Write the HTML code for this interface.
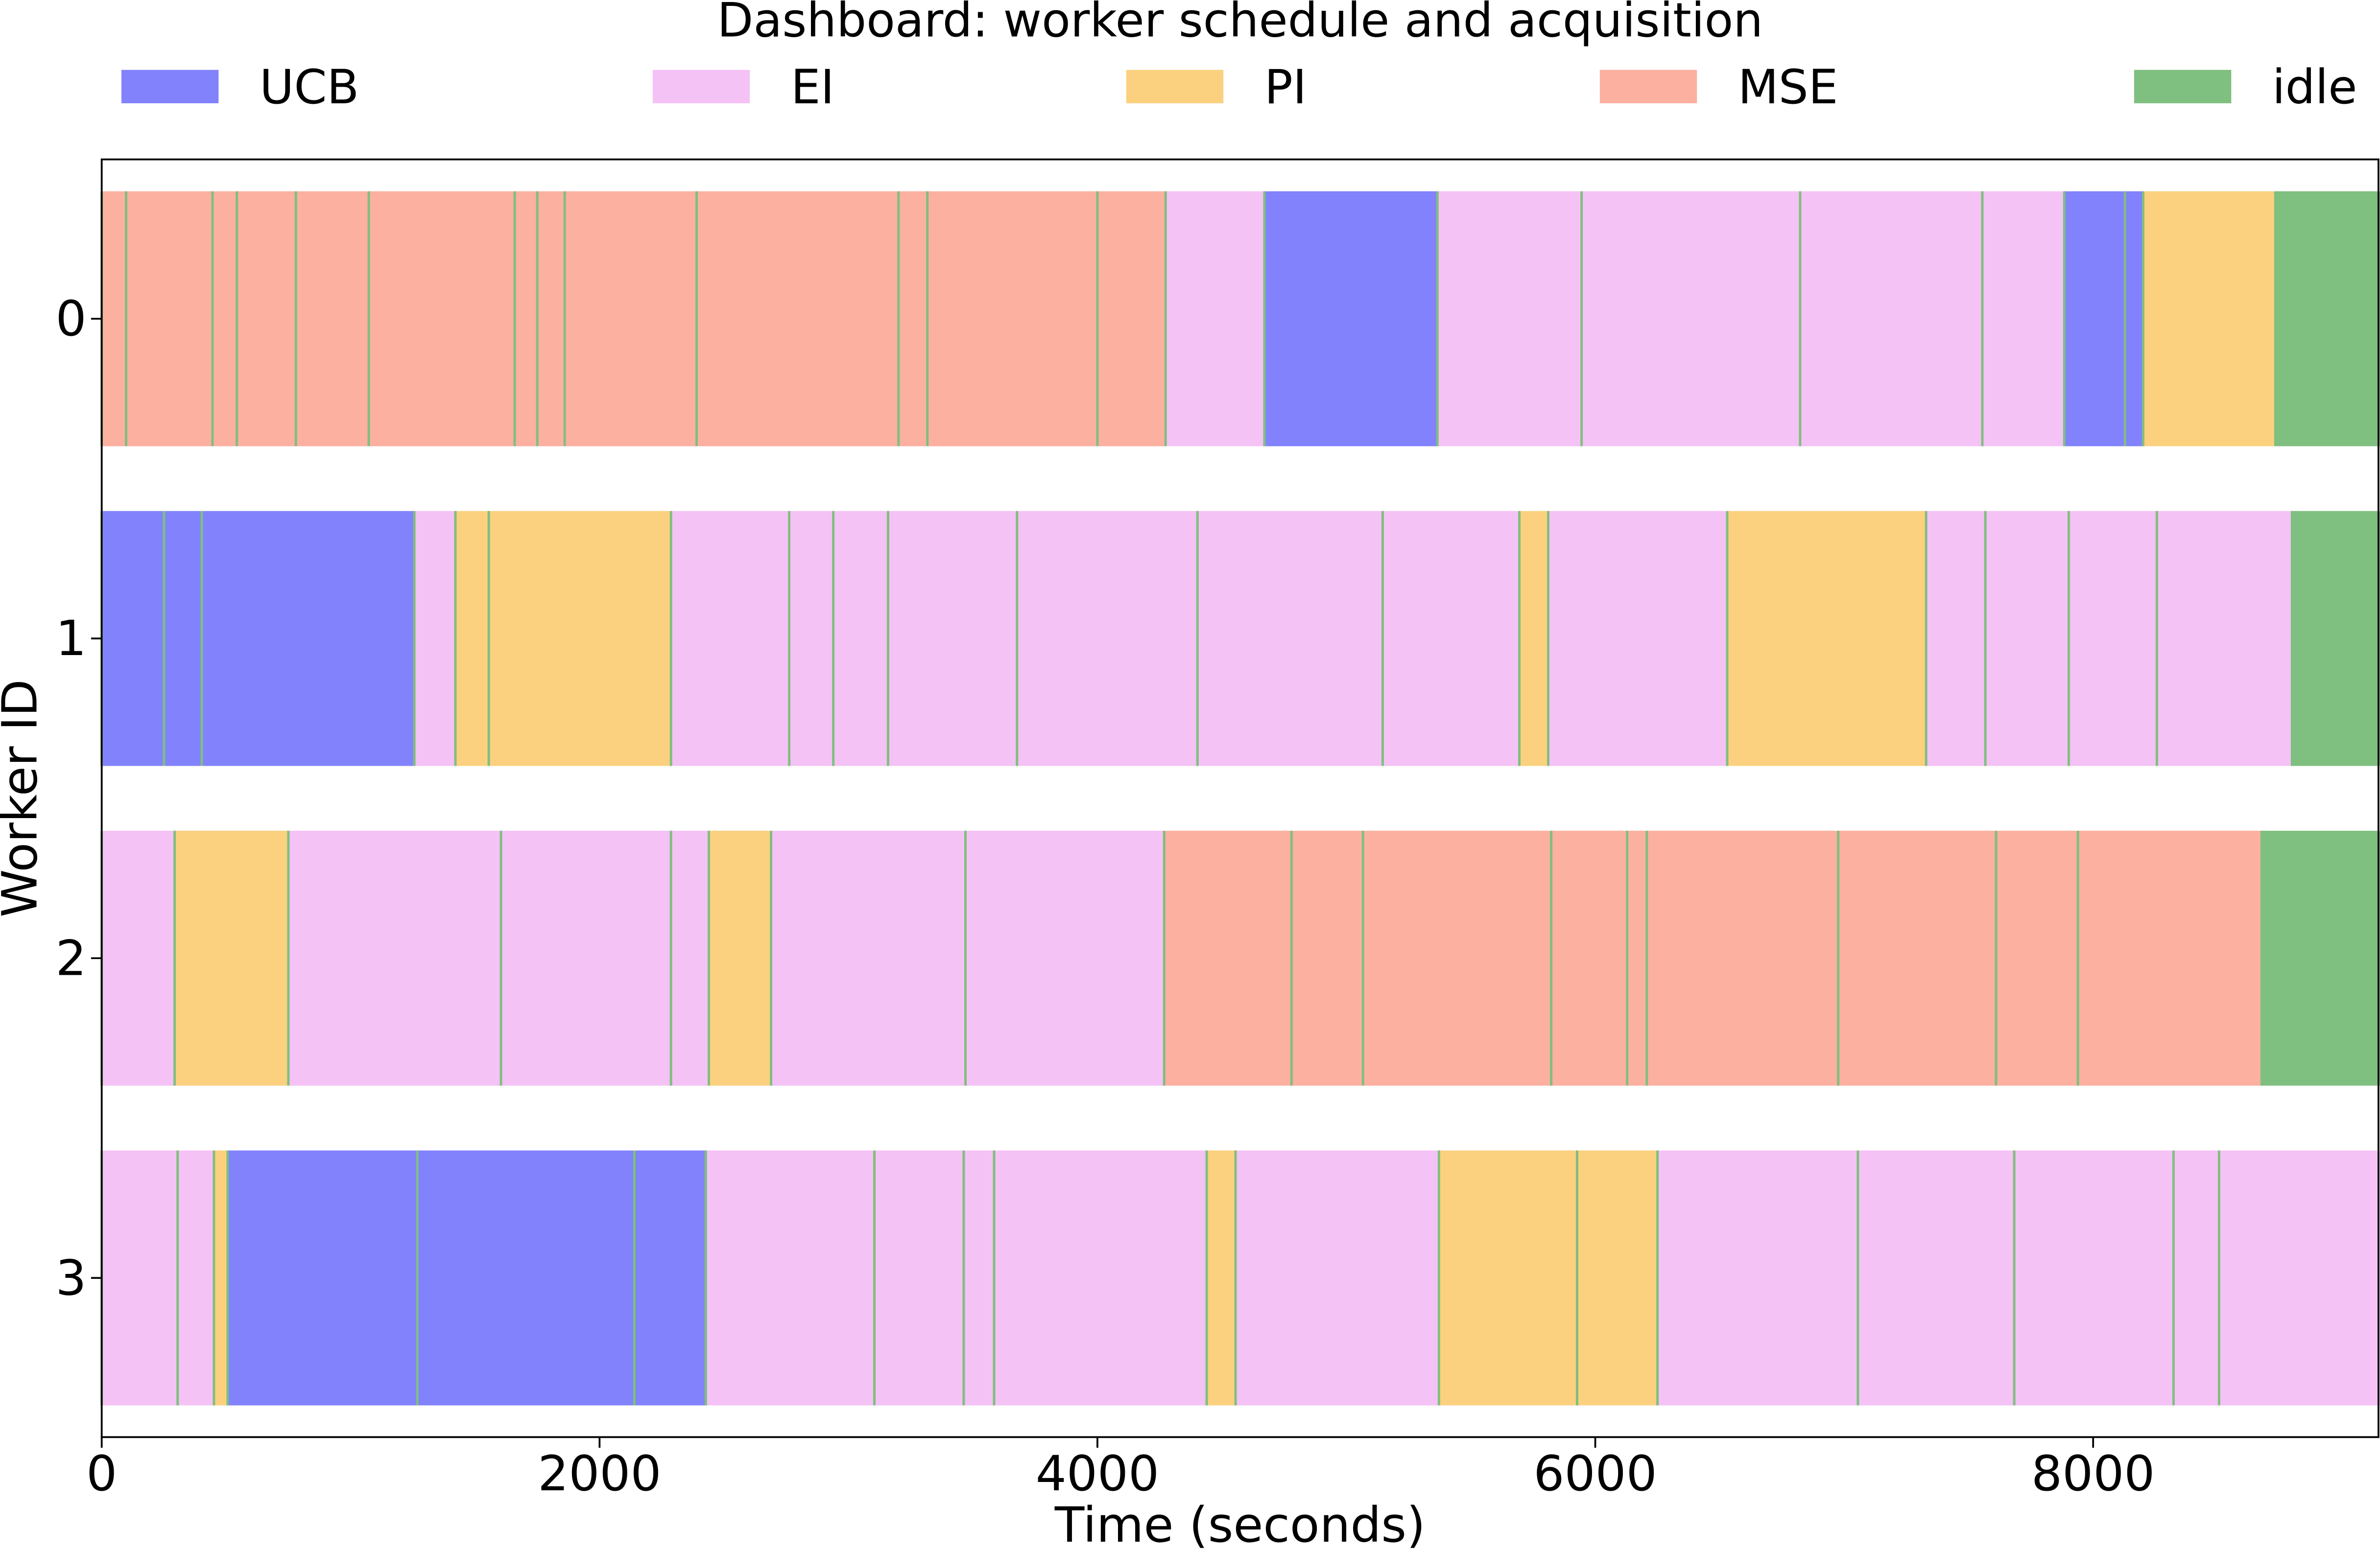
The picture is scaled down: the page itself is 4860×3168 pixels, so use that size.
<!DOCTYPE html>
<html><head><meta charset="utf-8"><style>
html,body{margin:0;padding:0;background:#fff}
svg{display:block;font-family:"DejaVu Sans","Liberation Sans",sans-serif}
</style></head><body>
<svg id="chart" width="4860" height="3168" viewBox="0 0 1568 1022" xmlns="http://www.w3.org/2000/svg">
<text x="817" y="24" font-size="31" text-anchor="middle" fill="#000">Dashboard: worker schedule and acquisition</text>
<g id="legend"></g>
<g id="bars"></g>
<rect x="67" y="105" width="1500" height="842" fill="none" stroke="#000" stroke-width="1.2"/>
<g id="axes"></g>
<text x="817" y="1016" font-size="32" text-anchor="middle">Time (seconds)</text>
<text transform="translate(24,526) rotate(-90)" font-size="32" text-anchor="middle">Worker ID</text>
</svg>
<script>
const legendLabels = ["UCB","EI","PI","MSE","idle"];
const colors = {UCB:"#8282fd",EI:"#f5c2f5",PI:"#fbd17f",MSE:"#fcb0a0",idle:"#7fbf7f"};
const xTicks = [0,2000,4000,6000,8000];
const workers = [0,1,2,3];
const tEnd = 9152;
const starts0 = [0,98,445,543,780,1073,1659,1750,1860,2390,3201,3317,4000,4274,4671,5366,5945,6823,7555,7884,8128,8201,8732];
const types0 = ["MSE","MSE","MSE","MSE","MSE","MSE","MSE","MSE","MSE","MSE","MSE","MSE","MSE","EI","UCB","EI","EI","EI","EI","UCB","UCB","PI","idle"];
const starts1 = [0,250,402,1256,1421,1555,2287,2762,2939,3159,3677,4402,5146,5695,5811,6530,7329,7567,7902,8256,8799];
const types1 = ["UCB","UCB","UCB","EI","PI","PI","EI","EI","EI","EI","EI","EI","EI","PI","EI","PI","EI","EI","EI","EI","idle"];
const starts2 = [0,293,750,1604,2287,2439,2689,3470,4268,4780,5067,5823,6128,6207,6976,7610,7939,8677];
const types2 = ["EI","PI","EI","EI","EI","PI","EI","EI","MSE","MSE","MSE","MSE","MSE","MSE","MSE","MSE","MSE","idle"];
const starts3 = [0,305,451,506,1268,2140,2427,3104,3463,3585,4439,4555,5372,5927,6250,7055,7683,8323,8506];
const types3 = ["EI","EI","PI","UCB","UCB","UCB","EI","EI","EI","EI","PI","EI","PI","PI","EI","EI","EI","EI","EI"];
const allStarts=[starts0,starts1,starts2,starts3], allTypes=[types0,types1,types2,types3];
const NS="http://www.w3.org/2000/svg";
const x = t => 67 + t*0.164;
const yc = w => 210 + w*210.7;
const H = 168;
function mk(tag,attrs,parent){const e=document.createElementNS(NS,tag);for(const k in attrs)e.setAttribute(k,attrs[k]);parent.appendChild(e);return e;}
const bars=document.getElementById('bars');
workers.forEach((w,i)=>{
  const s=allStarts[i], ty=allTypes[i];
  s.forEach((st,j)=>{
    const en = j+1<s.length ? s[j+1] : tEnd;
    const r=mk('rect',{x:x(st),y:yc(w)-H/2,width:x(en)-x(st),height:H,fill:colors[ty[j]]},bars);
    
    
    const l=mk('line',{x1:x(st),x2:x(st),y1:yc(w)-H/2,y2:yc(w)+H/2,stroke:"#7fbf7f","stroke-width":1.6},bars);
    
    
  });
});
const axes=document.getElementById('axes');
xTicks.forEach(t=>{
  mk('line',{x1:x(t),x2:x(t),y1:947,y2:954,stroke:"#000","stroke-width":1.2},axes);
  const tx=mk('text',{x:x(t),y:982,"font-size":32,"text-anchor":"middle"},axes);
  tx.textContent=t;
  
  
});
workers.forEach(w=>{
  mk('line',{x1:60,x2:67,y1:yc(w),y2:yc(w),stroke:"#000","stroke-width":1.2},axes);
  const tx=mk('text',{x:57,y:yc(w)+11,"font-size":32,"text-anchor":"end"},axes);
  tx.textContent=w;
  
  
});
const lg=document.getElementById('legend');
const lx=[80,430,742,1054,1406];
legendLabels.forEach((lab,i)=>{
  const r=mk('rect',{x:lx[i],y:46,width:64,height:22,fill:colors[lab]},lg);
  
  
  const t=mk('text',{x:lx[i]+91,y:68,"font-size":31},lg);
  t.textContent=lab;
  
  
});
</script>
</body></html>
